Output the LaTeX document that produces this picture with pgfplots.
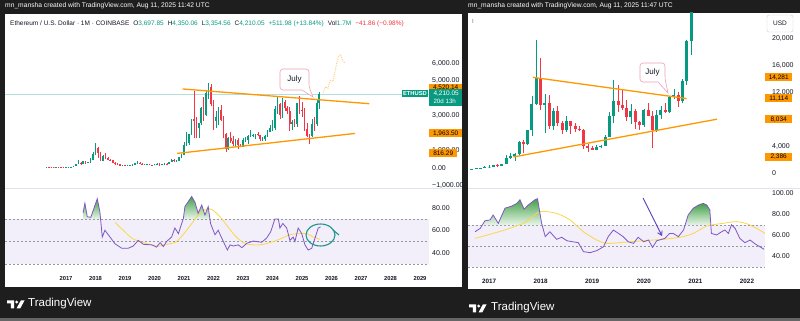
\documentclass[border=0pt]{standalone}
\usepackage{pgfplots}
\pgfplotsset{compat=1.18}
\usepackage{pgfplotstable}
\usepackage{fontspec}
\setmainfont{Liberation Sans}
\usetikzlibrary{arrows.meta}

\definecolor{tvgreen}{RGB}{8,153,129}
\definecolor{tvred}{RGB}{242,54,69}
\definecolor{tvorange}{RGB}{255,152,0}
\definecolor{rsipurple}{RGB}{126,87,194}
\definecolor{rsiyellow}{RGB}{250,216,70}
\definecolor{rsiband}{RGB}{242,238,250}
\definecolor{frame}{RGB}{30,30,30}
\definecolor{dashgrey}{RGB}{150,152,160}
\definecolor{sepgrey}{RGB}{224,227,235}
\definecolor{lbl}{RGB}{19,23,34}
\definecolor{pricecyan}{RGB}{178,223,219}
\definecolor{callout}{RGB}{240,160,180}
\definecolor{circteal}{RGB}{26,150,140}
\definecolor{arrowpurple}{RGB}{90,60,190}
\definecolor{ghost}{RGB}{255,204,128}
\definecolor{fillgreenA}{RGB}{67,160,71}
\definecolor{fillgreenB}{RGB}{232,245,233}

% ---------------- ETH / USD monthly (Coinbase) ----------------
\pgfplotstableread{
t o h l c
2016.333 11.0 14.5 9.5 14.0
2016.667 11.4 14.3 11.1 13.2
2017.000 8.0 11.2 8.0 10.7
2017.083 10.7 16.5 10.4 15.7
2017.167 15.7 54 15.4 50
2017.250 50 81 42 79
2017.333 79 235 75 230
2017.417 230 420 215 291
2017.583 201 394 200 388
2017.750 302 350 280 305
2017.833 305 525 285 447
2017.917 447 880 420 755
2018.000 755 1420 745 1118
2018.250 395 705 360 670
2018.917 113 157 82 133
2019.083 107 165 102 136
2019.167 136 148 128 141
2019.250 141 185 140 160
2019.333 160 285 158 268
2019.417 268 365 230 290
2019.667 172 225 155 180
2019.750 180 198 160 183
2020.000 130 185 127 180
2020.083 180 288 178 218
2020.250 133 228 130 207
2020.333 207 248 176 231
2020.500 225 350 222 345
2020.583 345 490 340 434
2020.750 360 420 332 386
2020.833 386 620 373 615
2020.917 615 755 535 737
2021.000 737 1470 715 1314
2021.083 1314 2040 1270 1416
2021.167 1416 1945 1290 1918
2021.250 1918 2795 1880 2773
2021.500 2275 2550 1720 2536
2021.583 2536 3470 2440 3433
2021.750 3001 4460 2970 4288
2021.833 4288 4870 3960 4631
2022.083 2688 3280 2300 2919
2022.167 2919 3480 2450 3282
2022.500 1067 1780 1000 1679
2022.750 1328 1660 1190 1573
2023.000 1196 1680 1190 1586
2023.083 1586 1740 1460 1605
2023.167 1605 1860 1370 1822
2023.250 1822 2140 1780 1870
2023.333 1870 1930 1740 1874
2023.417 1874 1930 1620 1934
2023.667 1646 1750 1530 1671
2023.750 1671 1865 1520 1815
2023.833 1815 2135 1750 2052
2023.917 2052 2450 2050 2282
2024.000 2282 2720 2100 2283
2024.083 2283 3520 2170 3340
2024.167 3340 4095 3060 3647
2024.333 3015 3975 2865 3763
2024.667 2514 2730 2150 2603
2024.833 2518 3740 2360 3705
2025.333 1794 2790 1750 2528
2025.500 2486 3940 2370 3697.85
2025.583 3697.85 4350.06 3354.56 4210.05
}\ethup

\pgfplotstableread{
t o h l c
2016.417 14.0 21.5 11.0 12.5
2016.500 12.5 14.9 10.5 12.0
2016.583 12.0 12.9 10.3 11.4
2016.750 13.2 13.4 10.6 11.2
2016.833 11.2 11.5 7.9 8.6
2016.917 8.6 9.0 6.9 8.0
2017.500 291 300 135 201
2017.667 388 400 195 302
2018.083 1118 1160 570 855
2018.167 855 880 365 395
2018.333 670 835 520 577
2018.417 577 625 410 455
2018.500 455 515 420 433
2018.583 433 440 250 283
2018.667 283 300 167 232
2018.750 232 238 188 198
2018.833 198 222 102 113
2019.000 133 160 100 107
2019.500 290 320 190 218
2019.583 218 238 165 172
2019.833 183 195 135 151
2019.917 151 155 118 130
2020.167 218 253 90 133
2020.417 231 255 215 225
2020.667 434 488 310 360
2021.333 2773 4380 1720 2706
2021.417 2706 2890 1700 2275
2021.667 3433 4030 2650 3001
2021.917 4631 4780 3520 3683
2022.000 3683 3900 2160 2688
2022.250 3282 3580 2700 2727
2022.333 2727 2960 1700 1942
2022.417 1942 1970 880 1067
2022.583 1679 2030 1420 1553
2022.667 1553 1790 1220 1328
2022.833 1573 1680 1070 1296
2022.917 1296 1350 1160 1196
2023.500 1934 2030 1820 1857
2023.583 1857 1875 1550 1646
2024.250 3647 3730 2810 3015
2024.417 3763 3890 3240 3433
2024.500 3433 3560 3090 3232
2024.583 3232 3480 2120 2514
2024.750 2603 2770 2310 2518
2024.917 3705 4110 3100 3337
2025.000 3337 3745 2920 3300
2025.083 3300 3440 2120 2237
2025.167 2237 2550 1760 1822
2025.250 1822 1955 1385 1794
2025.417 2528 2880 2110 2486
}\ethdown

% ---------------- BTC / USD monthly ----------------
\pgfplotstableread{
t o h l c
2016.667 575 612 570 609
2016.750 609 740 604 698
2016.833 698 755 680 743
2016.917 743 975 742 964
2017.000 964 1150 752 966
2017.083 966 1200 920 1190
2017.250 1080 1370 1060 1350
2017.333 1350 2760 1320 2300
2017.417 2300 2980 2080 2480
2017.500 2480 2930 1830 2875
2017.583 2875 4750 2700 4700
2017.750 4340 6470 4130 6470
2017.833 6450 11500 5500 10230
2017.917 10230 19800 10100 14160
2018.083 10220 11800 5900 10390
2018.250 6970 9750 6450 9240
2018.500 6400 8500 6100 7730
2019.083 3460 4200 3390 3850
2019.167 3850 4140 3730 4100
2019.250 4100 5640 4070 5350
2019.333 5350 9100 5330 8570
2019.417 8570 13880 7450 10820
2019.750 8290 10370 7300 9200
2020.000 7200 9580 6870 9350
2020.250 6410 9470 6150 8630
2020.333 8630 10070 8100 9450
2020.500 9140 11450 8970 11350
2020.583 11350 12480 10980 11650
2020.750 10780 14100 10400 13800
2020.833 13800 19900 13200 19700
2020.917 19700 29300 17600 28990
}\btcup

\pgfplotstableread{
t o h l c
2017.167 1190 1290 890 1080
2017.667 4700 4980 2950 4340
2018.000 14160 17200 9400 10220
2018.167 10390 11700 6500 6970
2018.333 9240 9990 7000 7490
2018.417 7490 7760 5780 6400
2018.583 7730 7760 5880 7030
2018.667 7030 7400 6100 6630
2018.750 6630 7000 6200 6370
2018.833 6370 6600 3600 4040
2018.917 4040 4300 3150 3740
2019.000 3740 4100 3400 3460
2019.500 10820 13200 9100 10090
2019.583 10090 12330 9400 9630
2019.667 9630 10950 7750 8290
2019.833 9200 9510 6530 7570
2019.917 7570 7750 6430 7200
2020.083 9350 10500 8450 8540
2020.167 8540 9190 3800 6410
2020.417 9450 10400 8900 9140
2020.667 11650 12080 9880 10780
}\btcdown

% candles: #1 table, #2 colour, #3 body width, #4 wick width
\newcommand{\drawcandles}[4]{%
  \pgfplotstablegetrowsof{#1}%
  \pgfmathtruncatemacro{\nrows}{\pgfplotsretval-1}%
  \foreach \i in {0,...,\nrows}{%
    \pgfplotstablegetelem{\i}{t}\of{#1}\let\ct\pgfplotsretval
    \pgfplotstablegetelem{\i}{o}\of{#1}\let\co\pgfplotsretval
    \pgfplotstablegetelem{\i}{h}\of{#1}\let\ch\pgfplotsretval
    \pgfplotstablegetelem{\i}{l}\of{#1}\let\cl\pgfplotsretval
    \pgfplotstablegetelem{\i}{c}\of{#1}\let\cc\pgfplotsretval
    \edef\tmp{%
      \noexpand\addplot[#2, line width=#4, forget plot] coordinates {(\ct,\cl) (\ct,\ch)};
      \noexpand\addplot[#2, line width=#3, forget plot] coordinates {(\ct,\co) (\ct,\cc)};}%
    \tmp
  }%
}

\pgfplotsset{
  tvbase/.style={scale only axis, axis line style={draw=none}, major tick length=0pt,
    clip mode=individual,
    tick label style={font=\fontsize{7}{8}\selectfont, text=lbl},
    yticklabel pos=right, yticklabel style={anchor=west, inner sep=0pt, xshift=3pt},
    xticklabel style={inner sep=0pt}},
  rsidash/.style={dashgrey, dash pattern=on 2pt off 2pt, line width=0.6pt, forget plot},
}
\tikzset{
  lblbox/.style={fill=tvorange, text=black, inner sep=0.8pt, font=\fontsize{6.5}{7}\selectfont,
    anchor=west, minimum height=8pt},
}

\begin{document}
\begin{tikzpicture}[x=1pt,y=1pt]
% frames
\fill[frame] (0,0) rectangle (800,321);
\fill[black!60] (0,0) rectangle (800,2.5);
\fill[white] (5,34) rectangle (462,307);
\fill[white] (468,32) rectangle (800,308);
\draw[sepgrey, line width=0.8pt] (5,133) -- (462,133);
\draw[sepgrey, line width=0.8pt] (468,133) -- (800,133);

% ================= LEFT : ETH price (x = years after 2000) =================
\begin{axis}[tvbase, at={(5pt,133pt)}, anchor=south west, width=424pt, height=174pt,
  x filter/.expression={x-2000},
  xmin=14.932, xmax=29.305, ymin=-1172, ymax=8828,
  xtick=\empty,
  ytick={-1000,0,1000,2000,3000,4000,5000,6000},
  yticklabels={{−1,000.00},{0.00},{1,000.00},{2,000.00},{3,000.00},{4,000.00},{5,000.00},{6,000.00}}]
\addplot[pricecyan, line width=0.6pt, forget plot] coordinates {(2014.932,4210.05) (2029.305,4210.05)};
\drawcandles{\ethup}{tvgreen}{1.6pt}{0.5pt}
\drawcandles{\ethdown}{tvred}{1.6pt}{0.5pt}
\addplot[tvorange, line width=1.3pt, forget plot] coordinates {(2020.95,4520.14) (2027.28,3672)};
\addplot[tvorange, line width=1.3pt, forget plot] coordinates {(2020.77,816.29) (2026.80,1963.50)};
\addplot[ghost, densely dotted, line width=0.9pt, forget plot] coordinates {
 (2025.71,4290) (2025.80,4650) (2025.88,4550) (2025.96,5050) (2026.05,4950) (2026.13,5600)
 (2026.22,6350) (2026.30,6500) (2026.38,6150) (2026.46,6000)};
\end{axis}

% ================= LEFT : RSI =================
\begin{axis}[tvbase, at={(5pt,50pt)}, anchor=south west, width=424pt, height=83pt,
  x filter/.expression={x-2000},
  xmin=14.932, xmax=29.305, ymin=23.78, ymax=97.56,
  xtick={17,18,19,20,21,22,23,24,25,26,27,28,29},
  xticklabels={2017,2018,2019,2020,2021,2022,2023,2024,2025,2026,2027,2028,2029},
  xticklabel style={font=\fontsize{5.8}{6}\selectfont\bfseries, yshift=-5pt},
  ytick={40,60,80}, yticklabels={40.00,60.00,80.00}]
\addplot[fill=rsiband, draw=none, forget plot] coordinates {(2014.932,30) (2029.305,30) (2029.305,70) (2014.932,70)};
\addplot[rsidash] coordinates {(2014.932,70) (2029.305,70)};
\addplot[rsidash] coordinates {(2014.932,50) (2029.305,50)};
\addplot[rsidash] coordinates {(2014.932,30) (2029.305,30)};
\addplot[draw=none, top color=fillgreenA, bottom color=fillgreenB, forget plot] coordinates {
 (2017.58,70) (2017.58,75.6) (2017.64,84) (2017.72,72) (2017.84,71.5) (2018.06,88) (2018.15,76) (2018.17,70)};
\addplot[draw=none, top color=fillgreenA, bottom color=fillgreenB, forget plot] coordinates {
 (2020.97,70) (2020.98,70.6) (2021.03,81) (2021.26,90) (2021.37,85) (2021.48,75) (2021.60,82.4)
 (2021.71,73.6) (2021.82,81) (2021.88,70)};
\addplot[rsiyellow, line width=0.8pt, smooth, forget plot] coordinates {
 (2018.66,67) (2019.06,57) (2019.23,53) (2019.50,50) (2020.07,46) (2020.41,47.5) (2020.75,50)
 (2021.09,60) (2021.54,75) (2021.88,79) (2022.22,72) (2022.67,57) (2023.01,49) (2023.35,47)
 (2023.69,47.5) (2024.14,51) (2024.59,56) (2024.93,57) (2025.16,57) (2025.38,54) (2025.61,52)};
\addplot[rsipurple, line width=0.8pt, forget plot] coordinates {
 (2017.58,75.6) (2017.64,84) (2017.72,72) (2017.84,71.5) (2018.06,88) (2018.15,76) (2018.23,54)
 (2018.32,60) (2018.49,54) (2018.66,48) (2018.89,44) (2019.11,44) (2019.28,46) (2019.45,51)
 (2019.62,47.5) (2019.91,47) (2020.07,45) (2020.19,49) (2020.30,45.5) (2020.41,50) (2020.58,54)
 (2020.69,62) (2020.81,57) (2020.98,70.6) (2021.03,81) (2021.26,90) (2021.37,85) (2021.48,75)
 (2021.60,82.4) (2021.71,73.6) (2021.82,81) (2021.90,66) (2022.05,56) (2022.16,60) (2022.28,53)
 (2022.47,42.4) (2022.56,47) (2022.67,46) (2022.84,47) (2022.96,44.5) (2023.13,48.4) (2023.35,50.4)
 (2023.63,49.3) (2023.80,53) (2023.94,58.7) (2024.08,70) (2024.20,70) (2024.25,62) (2024.35,66)
 (2024.48,62) (2024.59,51) (2024.70,54) (2024.76,50) (2024.87,62) (2024.99,57) (2025.10,47)
 (2025.21,42.4) (2025.33,44) (2025.44,53) (2025.55,62) (2025.63,63)};
\end{axis}

% ================= RIGHT : BTC price (x = years after 2000, y in thousands of USD) =================
\begin{axis}[tvbase, at={(468pt,133pt)}, anchor=south west, width=297pt, height=175pt,
  x filter/.expression={x-2000}, y filter/.expression={y/1000},
  xmin=16.593, xmax=22.349, ymin=-2.239, ymax=23.881,
  xtick=\empty,
  ytick={0,4,8,12,16,20},
  yticklabels={0,{4,000},{8,000},{12,000},{16,000},{20,000}},
  yticklabel style={xshift=4pt}]
\drawcandles{\btcup}{tvgreen}{3pt}{0.6pt}
\drawcandles{\btcdown}{tvred}{3pt}{0.6pt}
\addplot[tvorange, line width=1.3pt, forget plot] coordinates {(2017.85,14281) (2020.83,11114)};
\addplot[tvorange, line width=1.3pt, forget plot] coordinates {(2017.47,2386) (2021.42,8034)};
\end{axis}

% ================= RIGHT : RSI =================
\begin{axis}[tvbase, at={(468pt,48pt)}, anchor=south west, width=297pt, height=85pt,
  x filter/.expression={x-2000},
  xmin=16.593, xmax=22.349, ymin=24.29, ymax=105.24,
  xtick={17,18,19,20,21,22},
  xticklabels={2017,2018,2019,2020,2021,2022},
  xticklabel style={font=\fontsize{6.3}{7}\selectfont\bfseries, yshift=-6pt},
  ytick={40,60,80,100}, yticklabels={40.00,60.00,80.00,100.00},
  yticklabel style={xshift=4pt}]
\addplot[fill=rsiband, draw=none, forget plot] coordinates {(2016.593,30) (2022.349,30) (2022.349,70) (2016.593,70)};
\addplot[rsidash] coordinates {(2016.593,70) (2022.349,70)};
\addplot[rsidash] coordinates {(2016.593,50) (2022.349,50)};
\addplot[rsidash] coordinates {(2016.593,30) (2022.349,30)};
\addplot[draw=none, top color=fillgreenA, bottom color=fillgreenB, forget plot] coordinates {
 (2016.87,70) (2016.92,74) (2017.02,74.8) (2017.08,79.5) (2017.18,71.6) (2017.31,86) (2017.44,88)
 (2017.54,90.6) (2017.60,94) (2017.68,85) (2017.76,89) (2017.89,94) (2017.94,95) (2018.02,71.6) (2018.03,70)};
\addplot[draw=none, top color=fillgreenA, bottom color=fillgreenB, forget plot] coordinates {
 (2020.80,70) (2020.86,79.5) (2020.96,86) (2021.06,89) (2021.15,90.6) (2021.22,89) (2021.28,84.3) (2021.30,70)};
\addplot[rsiyellow, line width=0.8pt, smooth, forget plot] coordinates {
 (2016.73,57.3) (2017.08,62) (2017.40,66.8) (2017.73,73.2) (2017.98,82.7) (2018.31,81) (2018.57,74.8)
 (2018.83,63.6) (2019.09,55.7) (2019.28,52.5) (2019.60,53.5) (2019.99,55) (2020.38,56.4) (2020.70,58.3)
 (2020.96,62) (2021.22,69) (2021.54,71.6) (2021.80,73.2) (2022.06,70) (2022.35,62)};
\addplot[rsipurple, line width=0.8pt, forget plot] coordinates {
 (2016.73,63.6) (2016.83,66.8) (2016.92,74) (2017.02,74.8) (2017.08,79.5) (2017.18,71.6) (2017.31,86)
 (2017.44,88) (2017.54,90.6) (2017.60,94) (2017.68,85) (2017.76,89) (2017.89,94) (2017.94,95)
 (2018.02,71.6) (2018.09,58.9) (2018.18,63.6) (2018.31,56.4) (2018.41,58.3) (2018.51,55) (2018.63,54)
 (2018.73,53.2) (2018.83,44.6) (2018.96,43.7) (2019.09,45.6) (2019.22,49.3) (2019.31,58.9) (2019.41,65.2)
 (2019.51,62) (2019.60,58.9) (2019.70,54) (2019.80,52.5) (2019.89,58.3) (2020.00,54) (2020.09,55.7)
 (2020.17,48.7) (2020.25,55) (2020.35,56.4) (2020.41,57.3) (2020.50,62) (2020.57,62) (2020.67,58.9)
 (2020.77,65.2) (2020.86,79.5) (2020.96,86) (2021.06,89) (2021.15,90.6) (2021.22,89) (2021.28,84.3)
 (2021.31,62) (2021.41,60.5) (2021.51,63.6) (2021.57,65.2) (2021.64,62) (2021.70,70.3) (2021.77,66.8)
 (2021.86,57.3) (2021.96,53.2) (2022.06,55.7) (2022.16,51.9) (2022.25,49.3) (2022.33,46.9)};
\end{axis}

% ---------------- price-scale labels (left) ----------------
\node[lblbox, minimum width=33pt] at (429,233) {4,520.14};
\node[lblbox, minimum width=33pt] at (429,187.6) {1,963.50};
\node[lblbox, minimum width=28pt] at (429,167.6) {816.29};
\node[fill=tvgreen, text=white, inner sep=0.6pt, minimum width=26pt, minimum height=7.5pt,
      font=\fontsize{5.8}{6}\selectfont\bfseries] at (415,227.3) {ETHUSD};
\fill[tvgreen] (429,214.5) rectangle (462,232);
\node[text=white, anchor=west, font=\fontsize{6.5}{7}\selectfont] at (430,227) {4,210.05};
\node[text=white, anchor=west, font=\fontsize{6.2}{7}\selectfont] at (430,219.3) {20d 13h};

% ---------------- price-scale labels (right) ----------------
\node[lblbox, minimum width=27pt] at (765,243.7) {14,281};
\node[lblbox, minimum width=27pt] at (765,222.5) {11,114};
\node[lblbox, minimum width=27pt] at (765,201.8) {8,034};
\node[lblbox, minimum width=27pt] at (765,164) {2,386};
\draw[black!20, fill=white, rounded corners=2pt] (767,289) rectangle (793,306);
\node[font=\fontsize{6.5}{7}\selectfont, text=lbl] at (780,297.5) {USD};
\node[font=\fontsize{6}{6}\selectfont, text=black!55] at (473,300) {I};

% ---------------- annotations ----------------
\draw[callout, fill=white, line width=0.6pt, rounded corners=3pt]
  (280,231) -- (280,252) -- (309,252) -- (309,234) [sharp corners] -- (313,224) -- (302,231) [rounded corners=3pt] -- cycle;
\node[font=\fontsize{8}{9}\selectfont, text=lbl] at (294.5,242) {July};
\draw[callout, fill=white, line width=0.6pt, rounded corners=3pt]
  (640,239) -- (640,258) -- (665,258) -- (665,242) [sharp corners] -- (668,228) -- (658,239) [rounded corners=3pt] -- cycle;
\node[font=\fontsize{8}{9}\selectfont, text=lbl] at (652.5,248.5) {July};
\draw[circteal, line width=1.1pt] (320.5,86) ellipse [x radius=14.5pt, y radius=11pt];
\draw[circteal, line width=1.1pt] (333,91) -- (339,86);
\draw[arrowpurple, line width=0.9pt, -{Straight Barb[length=4pt,width=5pt]}] (643,123) -- (662,85);

% ---------------- headers ----------------
\node[anchor=west, text=white, font=\fontsize{6.7}{8}\selectfont, inner sep=0pt] at (5,315)
  {mn\_mansha created with TradingView.com, Aug 11, 2025 11:42 UTC};
\node[anchor=west, text=white, font=\fontsize{6.7}{8}\selectfont, inner sep=0pt] at (468,315)
  {mn\_mansha created with TradingView.com, Aug 11, 2025 11:47 UTC};
\node[anchor=west, inner sep=0pt, font=\fontsize{6.5}{8}\selectfont, text=lbl] at (10,297)
  {Ethereum / U.S. Dollar · 1M · COINBASE\hspace{4pt}O\textcolor{tvgreen}{3,697.85}\hspace{4pt}H\textcolor{tvgreen}{4,350.06}\hspace{4pt}L\textcolor{tvgreen}{3,354.56}\hspace{4pt}C\textcolor{tvgreen}{4,210.05}\hspace{4pt}\textcolor{tvgreen}{+511.98 (+13.84\%)}\hspace{4pt}Vol\textcolor{tvgreen}{1.7M}\hspace{4pt}\textcolor{tvred}{−41.86 (−0.98\%)}};

% ---------------- TradingView logos ----------------
\foreach \lx/\ly in {7/18, 469/14} {
  \begin{scope}[shift={(\lx,\ly)}]
    \fill[white] (0,2.5) -- (7,2.5) -- (7,-5.5) -- (3.8,-5.5) -- (3.8,-0.5) -- (0,-0.5) -- cycle;
    \fill[white] (9.7,0.9) circle (1.6);
    \fill[white] (9.5,-5.5) -- (13.2,-5.5) -- (17.5,2.5) -- (13.8,2.5) -- cycle;
  \end{scope}
}
\node[anchor=west, text=white, inner sep=0pt, font=\fontsize{11.5}{12}\selectfont] at (28,17.5) {TradingView};
\node[anchor=west, text=white, inner sep=0pt, font=\fontsize{11.5}{12}\selectfont] at (491,13.5) {TradingView};
\pgfresetboundingbox
\useasboundingbox (0,0) rectangle (800,321);
\end{tikzpicture}
\end{document}
